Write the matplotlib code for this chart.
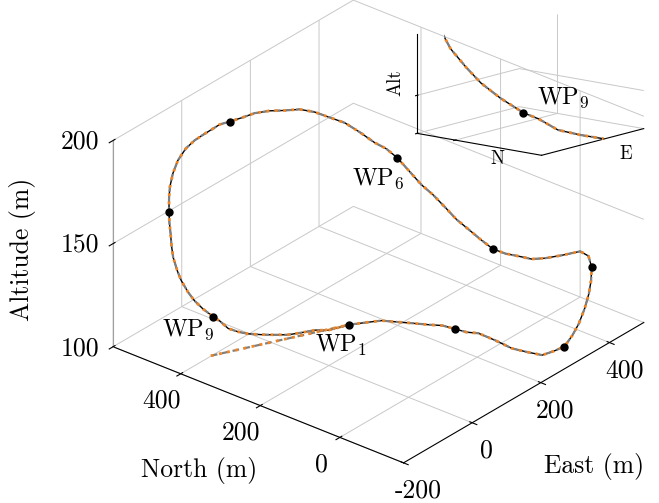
import matplotlib
matplotlib.use('Agg')
import matplotlib.pyplot as plt
from matplotlib.transforms import offset_copy

plt.rcParams['font.family'] = 'serif'
plt.rcParams['font.serif'] = ['cmr10']
plt.rcParams['mathtext.fontset'] = 'cm'
plt.rcParams['axes.unicode_minus'] = False
plt.rcParams['axes.formatter.use_mathtext'] = True

# flown loop (m), starts and ends at WP1
east = [84, 115, 140, 162, 182, 202, 216, 227, 237, 248, 253, 255, 262, 277, 302, 335,
        346, 358, 380, 398, 409, 419, 442, 440, 394, 360, 335, 316, 302, 295, 284, 275,
        272, 270, 268, 266, 267, 268, 270, 268, 269, 267, 259, 245, 223, 196, 165, 128,
        94, 55, 47, 40, 30, 19, -3, -30, -56, -88, -110, -131, -139, -146, -155, -163,
        -174, -174, -176, -169, -159, -145, -144, -144, -136, -124, -105, -83, -55, -27,
        3, 30, 58, 84]
north = [221, 208, 189, 165, 145, 124, 101, 79, 59, 38, 0, -40, -71, -97, -104, -103,
         -113, -119, -115, -110, -106, -99, -71, -52, -45, -33, -20, -4, 17, 43, 64, 86,
         114, 141, 169, 197, 228, 259, 289, 316, 354, 390, 421, 447, 466, 480, 491, 497,
         499, 497, 515, 530, 545, 554, 557, 554, 544, 524, 507, 489, 481, 472, 462, 451,
         431, 421, 402, 392, 379, 366, 350, 329, 311, 296, 280, 264, 255, 246, 237, 228,
         224, 221]
alt = [110, 109, 109, 108, 107, 106, 106, 105, 104, 104, 103, 102, 102, 101, 101, 100,
       105, 110, 115, 120, 125, 130, 131, 132, 134, 135, 136, 138, 139, 140, 144, 148,
       151, 155, 159, 162, 166, 170, 172, 173, 175, 177, 178, 180, 182, 183, 185, 187,
       188, 190, 188, 185, 182, 180, 178, 175, 172, 170, 168, 165, 161, 157, 153, 149,
       145, 141, 137, 133, 129, 125, 124, 122, 121, 120, 119, 118, 116, 115, 114, 112,
       111, 110]
# take-off point of the reference path
start_e, start_n, start_z = -111, 401, 100
# positions of WP1..WP9 in the loop
wp_idx = [0, 7, 15, 21, 29, 37, 49, 59, 69]

east_ticks = [-200, 0, 200, 400]
north_ticks = [0, 200, 400]
alt_ticks = [100, 150, 200]

ref_e = [start_e] + east
ref_n = [start_n] + north
ref_z = [start_z] + alt
wp_e = [east[i] for i in wp_idx]
wp_n = [north[i] for i in wp_idx]
wp_z = [alt[i] for i in wp_idx]

ORANGE = '#f28522'
GRID = '#c8c8c8'


def draw_paths(ax, clip=False):
    ax.plot(east, north, alt, color='black', lw=1.0, axlim_clip=clip)
    ax.plot(ref_e, ref_n, ref_z, color='#808080', lw=1.6, ls=(0, (3, 2)), axlim_clip=clip)
    ax.plot(ref_e, ref_n, ref_z, color=ORANGE, lw=2.0, ls=(0, (1, 2)), axlim_clip=clip)
    ax.plot(wp_e, wp_n, wp_z, 'o', color='black', ms=5, ls='none', axlim_clip=clip)


def style_axes(ax):
    ax.set_facecolor((1, 1, 1, 0))
    for a_ in (ax.xaxis, ax.yaxis, ax.zaxis):
        a_.set_pane_color((1, 1, 1, 0))
        a_._axinfo['grid']['color'] = GRID
        a_._axinfo['grid']['linewidth'] = 0.7
        a_._axinfo['tick']['color'] = '#999999'
        a_._axinfo['axisline']['linewidth'] = 0.9
        a_.label.set_visible(False)
        a_.offsetText.set_visible(False)


fig = plt.figure(figsize=(6.59, 5.03), dpi=100)

# main view
ax = fig.add_axes([0.1295, 0.054, 0.87, 0.946], projection='3d', proj_type='ortho')
ax.view_init(elev=28.9, azim=-140.4)
ax.set_box_aspect((1, 1, 0.625), zoom=1.189)
ax.set_xlim(-200, 500)
ax.set_ylim(-160, 570)
ax.set_zlim(100, 200)
style_axes(ax)
draw_paths(ax)

ax.set_xticks(east_ticks)
ax.set_xticklabels([str(t) for t in east_ticks], fontsize=18.5)
ax.set_yticks(north_ticks)
ax.set_yticklabels([str(t) for t in north_ticks], fontsize=18.5, va='center')
ax.set_zticks(alt_ticks)
ax.set_zticklabels([str(t) for t in alt_ticks], fontsize=18.5, va='center')
ax.tick_params(axis='x', pad=1)
ax.tick_params(axis='y', pad=6)
ax.tick_params(axis='z', pad=3)
ax.zaxis.line.set_color('#a0a0a0')

labels = {0: ('WP$_1$', -9, -21), 5: ('WP$_6$', -19, -21), 8: ('WP$_9$', -25, -13)}
for k, (s, dx, dy) in labels.items():
    tr = offset_copy(ax.transData, fig=fig, x=dx, y=dy, units='dots')
    ax.text(wp_e[k], wp_n[k], wp_z[k], s, fontsize=17.5, ha='center', va='center',
            transform=tr)

fig.text(594 / 659, 1 - 467 / 503, 'East (m)', fontsize=18.5, ha='center', va='center')
fig.text(199 / 659, 1 - 470 / 503, 'North (m)', fontsize=18.5, ha='center', va='center')
fig.text(22 / 659, 1 - 249 / 503, 'Altitude (m)', fontsize=18.5, ha='center',
         va='center', rotation=90)

# zoomed inset around WP9
axi = fig.add_axes([0.6745, 0.667, 0.254, 0.333], projection='3d', proj_type='ortho')
axi.view_init(elev=12.4, azim=-140.6)
axi.set_box_aspect((1, 1, 0.63), zoom=1.445)
axi.set_xlim(-204, -74)
axi.set_ylim(295, 432)
axi.set_zlim(120, 146)
style_axes(axi)
draw_paths(axi, clip=True)
axi.set_xticks([])
axi.set_yticks([390])
axi.set_zticks([120, 130])
for lab in axi.yaxis.get_majorticklabels() + axi.zaxis.get_majorticklabels():
    lab.set_visible(False)
tr = offset_copy(axi.transData, fig=fig, x=40, y=15, units='dots')
axi.text(wp_e[8], wp_n[8], wp_z[8], 'WP$_9$', fontsize=17.5, ha='center', va='center',
         transform=tr)
fig.text(395 / 659, 1 - 83 / 503, 'Alt', fontsize=13.5, ha='center', va='center',
         rotation=90)
fig.text(497 / 659, 1 - 159 / 503, 'N', fontsize=13.5, ha='center', va='center')
fig.text(626 / 659, 1 - 154 / 503, 'E', fontsize=13.5, ha='center', va='center')

fig.savefig('out.png', dpi=100)
